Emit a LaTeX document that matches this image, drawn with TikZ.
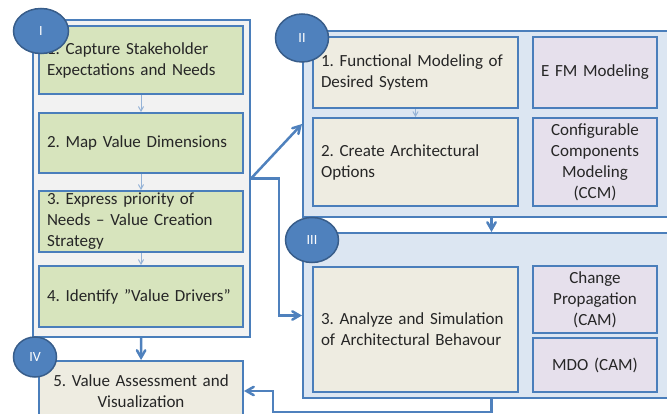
\documentclass[tikz,border=0pt]{standalone}
\usepackage{fontspec}
\setmainfont[WordSpace=0.8]{Carlito}
\usepackage{tikz}
\usetikzlibrary{positioning, arrows, shapes.geometric}
\frenchspacing

\definecolor{edgeblue}{HTML}{4A7EBB}
\definecolor{badgeblue}{HTML}{4F81BD}
\definecolor{badgerim}{HTML}{385D8A}
\definecolor{paleblue}{HTML}{95B3D7}
\definecolor{greypanel}{HTML}{F2F2F2}
\definecolor{bluepanel}{HTML}{DCE6F2}
\definecolor{greenbox}{HTML}{D7E4BD}
\definecolor{tanbox}{HTML}{EEECE1}
\definecolor{lilacbox}{HTML}{E6E0EC}
\definecolor{ink}{HTML}{262626}

\begin{document}
\begin{tikzpicture}[x=1pt, y=-1pt, >=angle 60, text=ink,
    font=\fontsize{17}{21}\selectfont,
    panel/.style={draw=edgeblue, line width=2pt, rectangle, inner sep=0pt},
    stepbox/.style={draw=edgeblue, line width=2pt, rectangle, inner sep=8pt, align=left},
    toolbox/.style={draw=edgeblue, line width=2pt, rectangle, fill=lilacbox, inner sep=4pt, align=center,
        minimum width=124pt, text width=116pt},
    badge/.style={ellipse, draw=badgerim, line width=1.5pt, fill=badgeblue, text=white, inner sep=0pt,
        font=\fontsize{14}{16}\selectfont},
    flow/.style={->, draw=badgeblue, line width=2.5pt},
    link/.style={->, draw=paleblue, line width=1pt}]
    \useasboundingbox (0,0) rectangle (667,414);
    \clip (0,0) rectangle (667,414);

    \node[panel, fill=greypanel, minimum width=217pt, minimum height=317pt] (pI) at (141.5,178.5) {};
    \node[panel, fill=bluepanel, minimum width=377pt, minimum height=186pt] (pII) at (491.5,124) {};
    \node[panel, fill=bluepanel, minimum width=377pt, minimum height=165pt] (pIII) at (491.5,315.5) {};

    \node[stepbox, fill=greenbox, text width=188pt, minimum height=68pt] (s1) at (141,60)
        {1. Capture Stakeholder\\Expectations and Needs};
    \node[stepbox, fill=greenbox, text width=188pt, minimum height=60pt] (s2) at (141,143)
        {2. Map Value Dimensions};
    \node[stepbox, fill=greenbox, text width=188pt, minimum height=61pt, inner ysep=0pt] (s3) at (141,221.5)
        {3. Express priority of\\Needs -- Value Creation\\Strategy};
    \node[stepbox, fill=greenbox, text width=188pt, minimum height=61pt] (s4) at (141,296.5)
        {4. Identify ”Value Drivers”};
    \node[stepbox, fill=tanbox, text width=188pt, minimum height=60pt, align=center] (s5) at (141,391)
        {5. Value Assessment and\\Visualization};

    \node[stepbox, fill=tanbox, text width=189pt, minimum height=71pt] (f1) at (415.5,72.5)
        {1. Functional Modeling of\\Desired System};
    \node[stepbox, fill=tanbox, text width=189pt, minimum height=88pt] (f2) at (415.5,162)
        {2. Create Architectural\\Options};
    \node[stepbox, fill=tanbox, text width=189pt, minimum height=125pt] (f3) at (415.5,329.5)
        {3. Analyze and Simulation\\of Architectural Behavour};

    \node[toolbox, minimum height=71pt] (efm) at (595,72.5) {E FM Modeling};
    \node[toolbox, minimum height=88pt] (ccm) at (595,162)
        {Configurable\\Components\\Modeling\\(CCM)};
    \node[toolbox, minimum height=67pt] (cam) at (595,299.5)
        {Change\\Propagation\\(CAM)};
    \node[toolbox, minimum height=54pt] (mdo) at (595,365) {MDO (CAM)};

    \draw[link] (s1) -- (s2);
    \draw[link] (s2) -- (s3);
    \draw[link] (s3) -- (s4);
    \draw[link] (f1) -- (f2);

    \coordinate (turn) at (273,412);
    \draw[flow] (pI) -- (s5);
    \draw[flow] (pII) -- (pIII);
    \draw[flow] (pI.east) -- (pII.west);
    \draw[flow] (pI.east) -- ++(28,0) |- (pIII.west);
    \draw[flow] (pIII.south) |- (turn) |- (s5.east);

    \node[badge, minimum width=55pt, minimum height=45pt] (bI) at (41,31) {I};
    \node[badge, minimum width=53pt, minimum height=48pt] (bII) at (302,38) {II};
    \node[badge, minimum width=53pt, minimum height=45pt] (bIII) at (312,240) {III};
    \node[badge, minimum width=43pt, minimum height=40pt] (bIV) at (35,357) {IV};
\end{tikzpicture}
\end{document}
